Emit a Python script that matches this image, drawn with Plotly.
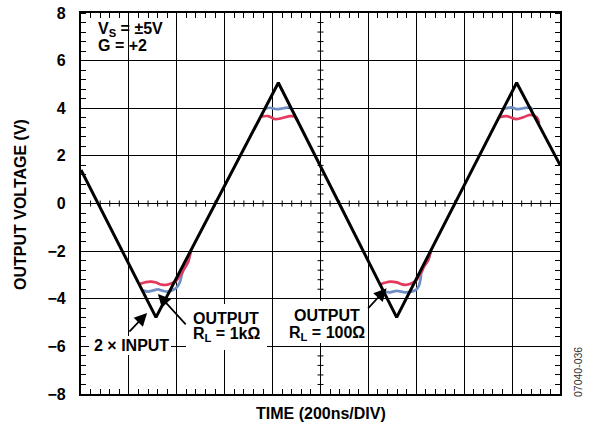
import plotly.graph_objects as go

# ---------------- data (time in ns, voltage in V) ----------------
input_t = [0, 313, 824, 1318, 1819, 2000]
input_v = [1.41, -4.78, 5.07, -4.78, 5.07, 1.62]

# output, RL = 1 kOhm (blue) - visible segments near clipping
blue_tr1_t = [256, 280, 301, 321, 342, 363, 384, 401, 413, 422, 430, 447, 458]
blue_tr1_v = [-3.65, -3.70, -3.65, -3.61, -3.67, -3.70, -3.63, -3.51, -3.30, -2.95, -2.75, -2.46, -2.00]
blue_pk1_t = [767, 789, 817, 845, 873, 880]
blue_pk1_v = [3.98, 4.02, 3.96, 4.00, 4.04, 3.93]
blue_tr2_t = [1264, 1290, 1318, 1353, 1381, 1402, 1412, 1418, 1422, 1436, 1450, 1460]
blue_tr2_v = [-3.70, -3.73, -3.67, -3.73, -3.70, -3.60, -3.42, -3.15, -2.86, -2.58, -2.37, -2.00]
blue_pk2_t = [1764, 1777, 1798, 1819, 1847, 1875, 1886]
blue_pk2_v = [3.99, 4.00, 4.04, 3.96, 4.00, 4.04, 3.93]

# output, RL = 100 Ohm (red)
red_tr1_t = [245, 271, 292, 313, 334, 355, 376, 397, 413, 422, 430, 447, 458]
red_tr1_v = [-3.38, -3.30, -3.28, -3.32, -3.40, -3.42, -3.36, -3.25, -3.04, -2.90, -2.75, -2.46, -2.00]
red_pk1_t = [750, 782, 810, 838, 873, 893, 904]
red_pk1_v = [3.65, 3.67, 3.54, 3.58, 3.67, 3.65, 3.47]
red_tr2_t = [1250, 1273, 1290, 1318, 1336, 1353, 1381, 1402, 1411, 1422, 1436, 1450, 1460]
red_tr2_v = [-3.39, -3.32, -3.28, -3.31, -3.38, -3.42, -3.35, -3.21, -3.04, -2.86, -2.58, -2.37, -2.00]
red_pk2_t = [1747, 1777, 1819, 1847, 1875, 1903, 1913]
red_pk2_v = [3.62, 3.67, 3.54, 3.62, 3.72, 3.62, 3.37]

y_ticks = [-8, -6, -4, -2, 0, 2, 4, 6, 8]

# ---------------- layout helpers ----------------
W, H = 593, 427
L, R, T, B = 81, 560, 13, 394
FONT = "Liberation Sans, Arial, Helvetica, sans-serif"
FS = 16


def px(x, y):
    return (x - L) / (R - L), (B - y) / (B - T)


def join(segs):
    xs, ys = [], []
    for tx, vy in segs:
        xs += list(tx) + [None]
        ys += list(vy) + [None]
    return xs, ys


fig = go.Figure()

bx, by = join([(blue_tr1_t, blue_tr1_v), (blue_pk1_t, blue_pk1_v),
               (blue_tr2_t, blue_tr2_v), (blue_pk2_t, blue_pk2_v)])
rx, ry = join([(red_tr1_t, red_tr1_v), (red_pk1_t, red_pk1_v),
               (red_tr2_t, red_tr2_v), (red_pk2_t, red_pk2_v)])

fig.add_trace(go.Scatter(x=bx, y=by, mode="lines", connectgaps=False,
                         line=dict(color="#6f8fc4", width=2.7, shape="spline", smoothing=0.8),
                         hoverinfo="skip", showlegend=False))
fig.add_trace(go.Scatter(x=rx, y=ry, mode="lines", connectgaps=False,
                         line=dict(color="#e33a5c", width=2.7, shape="spline", smoothing=0.8),
                         hoverinfo="skip", showlegend=False))
fig.add_trace(go.Scatter(x=input_t, y=input_v, mode="lines",
                         line=dict(color="black", width=3),
                         hoverinfo="skip", showlegend=False))

shapes = []
# minor ticks on the centre lines of the graticule
for k in range(1, 50):
    t = k * 40
    if t % 200 == 0:
        continue
    shapes.append(dict(type="line", xref="x", yref="y", ysizemode="pixel", yanchor=0,
                       x0=t, x1=t, y0=-3, y1=3, line=dict(color="black", width=1)))
for k in range(1, 40):
    v = -8 + k * 0.4
    if abs(round(v / 2) * 2 - v) < 1e-6:
        continue
    shapes.append(dict(type="line", xref="x", yref="y", xsizemode="pixel", xanchor=1000,
                       x0=-3, x1=3, y0=v, y1=v, line=dict(color="black", width=1)))

# white boxes behind the labels
for (x0, y0, x1, y1) in [(89, 336, 171, 355), (186, 304, 267, 350), (287, 301, 367, 343)]:
    a0, b0 = px(x0, y1)
    a1, b1 = px(x1, y0)
    shapes.append(dict(type="rect", xref="paper", yref="paper", x0=a0, x1=a1, y0=b0, y1=b1,
                       fillcolor="white", line=dict(width=0), layer="above"))

ann = []


def text(s, x, y, size=FS, anchor="center", angle=0, color="black"):
    ax_, ay_ = px(x, y)
    ann.append(dict(text=s, x=ax_, y=ay_, xref="paper", yref="paper", showarrow=False,
                    xanchor=anchor, yanchor="middle", textangle=angle,
                    font=dict(family=FONT, size=size, color=color)))


text("<b>V<sub>S</sub> = ±5V</b>", 96, 30, anchor="left")
text("<b>G = +2</b>", 96, 45.5, anchor="left")
text("<b>2 × INPUT</b>", 131, 345.5)
text("<b>OUTPUT</b>", 226, 318)
text("<b>R<sub>L</sub> = 1kΩ</b>", 226, 334)
text("<b>OUTPUT</b>", 327, 315)
text("<b>R<sub>L</sub> = 100Ω</b>", 327, 333.5)
text("<b>TIME (200ns/DIV)</b>", 321, 413)
text("<b>OUTPUT VOLTAGE (V)</b>", 20, 205, angle=-90)
text("07040-036", 578, 372, size=10.5, angle=-90, color="#333333")


def arrow(x_tip, y_tip, x_tail, y_tail):
    ann.append(dict(text="", x=x_tip, y=y_tip, ax=x_tail, ay=y_tail, xref="x", yref="y",
                    axref="x", ayref="y", showarrow=True, arrowhead=2, arrowsize=1.5,
                    arrowwidth=1.7, arrowcolor="black", standoff=0, startstandoff=0))


arrow(276, -4.60, 196, -5.44)     # 2 x INPUT
arrow(321, -3.80, 443, -5.14)     # OUTPUT RL = 1k
arrow(1276, -3.56, 1193, -4.47)   # OUTPUT RL = 100

fig.update_layout(
    width=W, height=H,
    margin=dict(l=L, r=W - R, t=T, b=H - B, autoexpand=False),
    paper_bgcolor="white", plot_bgcolor="white",
    shapes=shapes, annotations=ann,
    xaxis=dict(range=[0, 2000], tick0=0, dtick=200, showticklabels=False, ticks="",
               showgrid=True, gridcolor="black", gridwidth=1.2, zeroline=False,
               showline=True, linecolor="black", linewidth=2.2, mirror="allticks",
               minor=dict(dtick=40, tick0=0, ticks="inside", ticklen=5, tickwidth=1,
                          tickcolor="black", showgrid=False),
               fixedrange=True),
    yaxis=dict(range=[-8, 8], tickvals=y_ticks, ticks="",
               showgrid=True, gridcolor="black", gridwidth=1.2, zeroline=False,
               showline=True, linecolor="black", linewidth=2.2, mirror="allticks",
               tickfont=dict(family=FONT, size=FS, color="black", weight="bold"),
               ticklabelstandoff=10,
               minor=dict(dtick=0.4, tick0=0, ticks="inside", ticklen=5, tickwidth=1,
                          tickcolor="black", showgrid=False),
               fixedrange=True),
    showlegend=False,
)

fig.write_html("out.html", config={"displayModeBar": False},
               post_script="document.body.style.margin='0';document.body.style.overflow='hidden';")
